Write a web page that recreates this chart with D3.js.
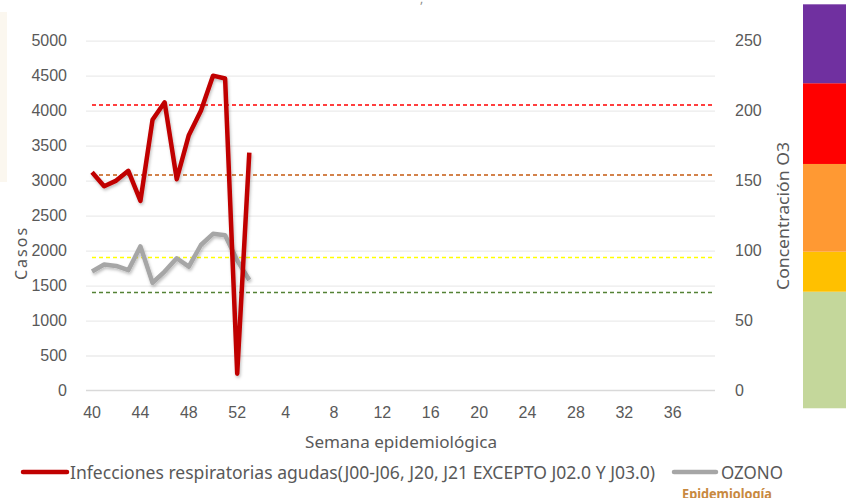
<!DOCTYPE html>
<html>
<head>
<meta charset="utf-8">
<script src="https://cdn.jsdelivr.net/npm/d3@7"></script>
<style>
  body { margin: 0; background: #fff; }
  svg { display: block; font-family: "Noto Sans", "Open Sans", sans-serif; }
  .tick text { fill: #595959; font-size: 16px; }
</style>
</head>
<body>
<div id="chart"></div>
<script>
// semanas epidemiologicas (eje de categorias)
const weeks = [40, 41, 42, 43, 44, 45, 46, 47, 48, 49, 50, 51, 52,
  1, 2, 3, 4, 5, 6, 7, 8, 9, 10, 11, 12, 13, 14, 15, 16, 17, 18, 19, 20,
  21, 22, 23, 24, 25, 26, 27, 28, 29, 30, 31, 32, 33, 34, 35, 36, 37, 38, 39];
const weekLabels = [40, 44, 48, 52, 4, 8, 12, 16, 20, 24, 28, 32, 36];

const casos = [3120, 2920, 3000, 3140, 2710, 3870, 4120, 3020, 3650, 4000, 4500, 4460, 240, 3400];
const ozono = [85, 90, 89, 86, 103, 77, 85, 94.5, 88.5, 104, 112, 111, 93, 79];

const leftTicks = [0, 500, 1000, 1500, 2000, 2500, 3000, 3500, 4000, 4500, 5000];
const rightTicks = [0, 50, 100, 150, 200, 250];

// limites de calidad del aire (ozono)
const limites = [70, 95, 154, 204];
const limiteColors = ["#548235", "#FFFF00", "#C55A11", "#FF0000"];

// barra de colores a la derecha
const bandEdges = [-12.7, 70.6, 99.2, 161.9, 219.6, 276];
const bandColors = ["#C4D79B", "#FFC000", "#FF9933", "#FF0000", "#7030A0"];

const serieNombre = "Infecciones respiratorias agudas(J00-J06, J20, J21 EXCEPTO J02.0 Y J03.0)";

const width = 846, height = 498;
const plotLeft = 86, plotRight = 715, plotTop = 40.7, plotBottom = 390.5;

const svg = d3.select("#chart").append("svg")
  .attr("width", width)
  .attr("height", height);

const defs = svg.append("defs");
defs.append("filter").attr("id", "shadow")
  .attr("x", "-20%").attr("y", "-20%").attr("width", "140%").attr("height", "140%")
  .append("feDropShadow")
  .attr("dx", 1).attr("dy", 2).attr("stdDeviation", 1.5)
  .attr("flood-color", "#000").attr("flood-opacity", 0.25);

// faint leftover from the pasted picture
svg.append("rect").attr("x", 0).attr("y", 12).attr("width", 7).attr("height", 170)
  .attr("fill", "#fbf7ef");

const x = d3.scaleBand().domain(weeks).range([plotLeft, plotRight]);
const cx = (i) => x(weeks[i]) + x.bandwidth() / 2;
const yL = d3.scaleLinear().domain([0, 5000]).range([plotBottom, plotTop]);
const yR = d3.scaleLinear().domain([0, 250]).range([plotBottom, plotTop]);

// gridlines
svg.append("g")
  .attr("transform", `translate(${plotLeft},0)`)
  .call(d3.axisLeft(yL).tickValues(leftTicks.slice(1)).tickSize(-(plotRight - plotLeft)).tickFormat(""))
  .call(g => g.select(".domain").remove())
  .call(g => g.selectAll("line").attr("stroke", "#ebebeb").attr("stroke-width", 1.3));

svg.append("line")
  .attr("x1", plotLeft).attr("x2", plotRight)
  .attr("y1", yL(0)).attr("y2", yL(0))
  .attr("stroke", "#d9d9d9").attr("stroke-width", 1.3);

// left axis
svg.append("g")
  .attr("transform", `translate(67,0)`)
  .call(d3.axisLeft(yL).tickValues(leftTicks).tickSize(0).tickPadding(0).tickFormat(d3.format("d")))
  .call(g => g.select(".domain").remove());

// right axis
svg.append("g")
  .attr("transform", `translate(735,0)`)
  .call(d3.axisRight(yR).tickValues(rightTicks).tickSize(0).tickPadding(0))
  .call(g => g.select(".domain").remove());

// bottom axis
svg.append("g")
  .attr("transform", `translate(0,${plotBottom})`)
  .call(d3.axisBottom(x).tickValues(weekLabels).tickSize(0).tickPadding(16))
  .call(g => g.select(".domain").remove());

// threshold lines
svg.append("g").selectAll("line")
  .data(limites)
  .join("line")
  .attr("x1", 92).attr("x2", plotRight)
  .attr("y1", d => yR(d)).attr("y2", d => yR(d))
  .attr("stroke", (d, i) => limiteColors[i])
  .attr("stroke-width", 1.5)
  .attr("stroke-dasharray", "4,3");

// series
const lineL = d3.line().x((d, i) => cx(i)).y(d => yL(d));
const lineR = d3.line().x((d, i) => cx(i)).y(d => yR(d));

svg.append("path")
  .datum(ozono)
  .attr("d", lineR)
  .attr("fill", "none")
  .attr("stroke", "#A6A6A6")
  .attr("stroke-width", 4.5)
  .attr("stroke-linejoin", "round")
  .attr("filter", "url(#shadow)");

svg.append("path")
  .datum(casos)
  .attr("d", lineL)
  .attr("fill", "none")
  .attr("stroke", "#C00000")
  .attr("stroke-width", 4.5)
  .attr("stroke-linejoin", "round")
  .attr("filter", "url(#shadow)");

// color legend bar
svg.append("g").selectAll("rect")
  .data(bandColors)
  .join("rect")
  .attr("x", 803)
  .attr("width", 50)
  .attr("y", (d, i) => yR(bandEdges[i + 1]))
  .attr("height", (d, i) => yR(bandEdges[i]) - yR(bandEdges[i + 1]))
  .attr("fill", d => d);

// axis titles
svg.append("text")
  .attr("transform", "translate(27,253) rotate(-90)")
  .attr("text-anchor", "middle")
  .attr("fill", "#595959")
  .attr("font-size", 16)
  .attr("letter-spacing", 2)
  .text("Casos");

svg.append("text")
  .attr("transform", "translate(789,216) rotate(-90)")
  .attr("text-anchor", "middle")
  .attr("fill", "#595959")
  .attr("font-size", 17)
  .attr("textLength", 148)
  .attr("lengthAdjust", "spacingAndGlyphs")
  .text("Concentración O3");

svg.append("text")
  .attr("x", 305).attr("y", 448)
  .attr("fill", "#595959")
  .attr("font-size", 16)
  .attr("textLength", 192)
  .attr("lengthAdjust", "spacingAndGlyphs")
  .text("Semana epidemiológica");

// legend
const legend = svg.append("g").attr("transform", "translate(0,472)");
legend.append("line")
  .attr("x1", 23).attr("x2", 67)
  .attr("stroke", "#C00000").attr("stroke-width", 4.5).attr("stroke-linecap", "round");
legend.append("text")
  .attr("x", 70).attr("y", 6.5)
  .attr("fill", "#595959")
  .attr("font-size", 18)
  .attr("textLength", 585)
  .attr("lengthAdjust", "spacingAndGlyphs")
  .text(serieNombre);
legend.append("line")
  .attr("x1", 674).attr("x2", 716)
  .attr("stroke", "#A6A6A6").attr("stroke-width", 4.5).attr("stroke-linecap", "round");
legend.append("text")
  .attr("x", 721).attr("y", 6.5)
  .attr("fill", "#595959")
  .attr("font-size", 18)
  .attr("textLength", 62)
  .attr("lengthAdjust", "spacingAndGlyphs")
  .text("OZONO");

// cropped leftovers of the original slide
svg.append("text")
  .attr("x", 420).attr("y", 3)
  .attr("fill", "#8c8c8c")
  .attr("font-size", 12)
  .text(",");

svg.append("text")
  .attr("x", 682).attr("y", 499)
  .attr("fill", "#C8893F")
  .attr("font-size", 14)
  .attr("font-weight", "bold")
  .attr("textLength", 90)
  .attr("lengthAdjust", "spacingAndGlyphs")
  .text("Epidemiología");
</script>
</body>
</html>
